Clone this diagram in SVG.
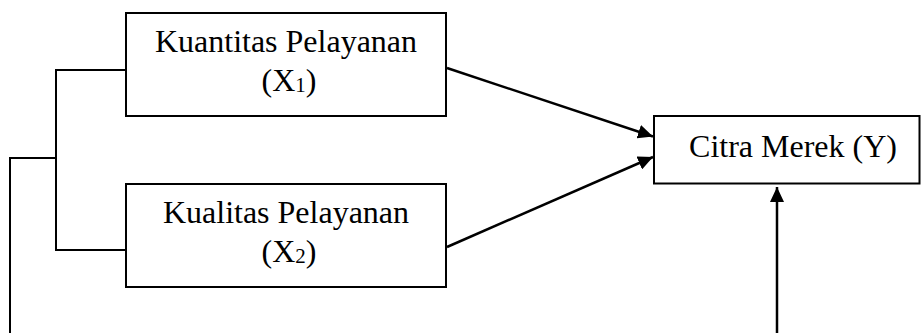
<svg xmlns="http://www.w3.org/2000/svg" width="921" height="333" viewBox="0 0 921 333">
  <style>
    .box { fill: #ffffff; stroke: #000000; stroke-width: 2; }
    .lbl { font-family: "Liberation Serif", "Times New Roman", serif; font-size: 32px; fill: #000000; text-anchor: middle; }
    .sub { font-size: 21px; }
    .ln { fill: none; stroke: #000000; stroke-width: 2; }
    .arr { fill: none; stroke: #000000; stroke-width: 2.5; marker-end: url(#ah); }
  </style>
  <defs>
    <marker id="ah" markerUnits="userSpaceOnUse" markerWidth="15" markerHeight="14" refX="15" refY="7" orient="auto">
      <path d="M0,0 L15,7 L0,14 z" fill="#000000"/>
    </marker>
  </defs>
  <rect width="921" height="333" fill="#ffffff"/>

  <g id="connectors">
    <polyline class="ln" points="127,70 56,70 56,250 127,250"/>
    <polyline class="ln" points="56,158 10,158 10,333"/>
    <line class="arr" x1="447" y1="68" x2="653" y2="136.5"/>
    <line class="arr" x1="447" y1="247" x2="653" y2="157"/>
    <line class="arr" x1="777" y1="333" x2="777" y2="187"/>
  </g>

  <g id="node-x1">
    <rect class="box" x="126" y="13" width="320" height="103"/>
    <text class="lbl" x="286" y="51.5">Kuantitas Pelayanan</text>
    <text class="lbl" x="289" y="90.5">(X<tspan class="sub" dy="1">1</tspan><tspan dy="-1">)</tspan></text>
  </g>

  <g id="node-x2">
    <rect class="box" x="126" y="184" width="320" height="103"/>
    <text class="lbl" x="286" y="223">Kualitas Pelayanan</text>
    <text class="lbl" x="289" y="262">(X<tspan class="sub" dy="1">2</tspan><tspan dy="-1">)</tspan></text>
  </g>

  <g id="node-y">
    <rect class="box" x="654" y="116" width="265.5" height="67.5"/>
    <text class="lbl" x="793" y="156.5">Citra Merek (Y)</text>
  </g>
</svg>
